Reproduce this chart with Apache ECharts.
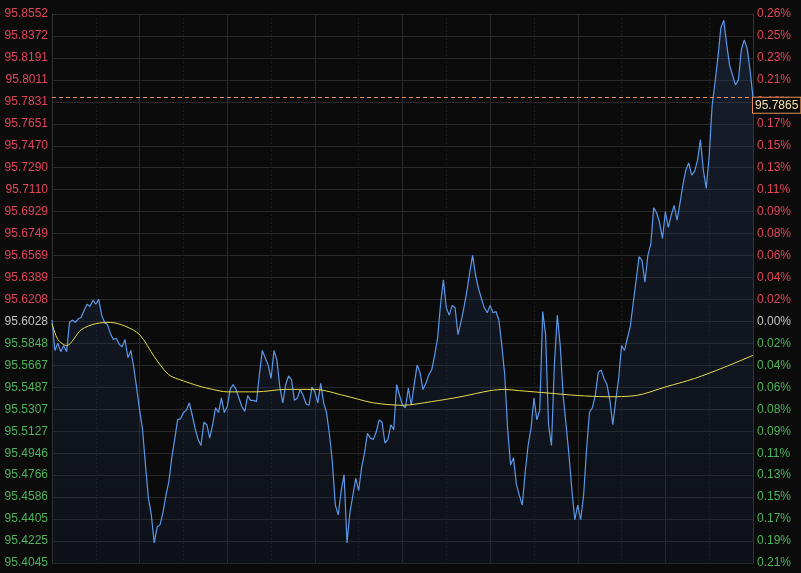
<!DOCTYPE html>
<html>
<head>
<meta charset="utf-8">
<script src="https://cdn.jsdelivr.net/npm/echarts@6/dist/echarts.min.js"></script>
<style>
html,body{margin:0;padding:0;background:#0b0b0c;}
#chart{width:801px;height:573px;}
</style>
</head>
<body>
<div id="chart"></div>
<script>
// Tick labels (left: price, right: % change from the 95.6028 base)
const leftTicks = ['95.4045','95.4225','95.4405','95.4586','95.4766','95.4946','95.5127','95.5307','95.5487','95.5667','95.5848','95.6028','95.6208','95.6389','95.6569','95.6749','95.6929','95.7110','95.7290','95.7470','95.7651','95.7831','95.8011','95.8191','95.8372','95.8552'];
const rightTicks = ['0.21%','0.19%','0.17%','0.15%','0.13%','0.11%','0.09%','0.08%','0.06%','0.04%','0.02%','0.00%','0.02%','0.04%','0.06%','0.08%','0.09%','0.11%','0.13%','0.15%','0.17%','0.19%','0.21%','0.23%','0.25%','0.26%'];
const baseIndex = 11;          // index of 95.6028 (previous close)
const tickStep = 0.018028;     // price step between ticks
const lastPrice = 95.7865;

// Intraday price, 241 samples
const priceSeries = [
95.604,95.579,95.585,95.578,95.583,95.578,95.602,95.604,95.602,95.605,
95.606,95.612,95.617,95.615,95.620,95.617,95.621,95.608,95.602,95.600,
95.593,95.588,95.589,95.584,95.582,95.588,95.573,95.579,95.565,95.548,
95.530,95.514,95.485,95.458,95.444,95.421,95.434,95.436,95.446,95.460,
95.471,95.491,95.506,95.522,95.523,95.528,95.530,95.536,95.526,95.515,
95.506,95.501,95.520,95.518,95.507,95.518,95.532,95.528,95.540,95.528,
95.533,95.547,95.551,95.547,95.540,95.533,95.529,95.542,95.538,95.538,
95.537,95.559,95.579,95.573,95.567,95.556,95.579,95.571,95.549,95.536,
95.551,95.558,95.555,95.538,95.540,95.547,95.542,95.535,95.534,95.549,
95.545,95.536,95.552,95.536,95.528,95.510,95.487,95.452,95.444,95.464,
95.477,95.421,95.446,95.460,95.474,95.464,95.483,95.495,95.511,95.507,
95.506,95.512,95.522,95.520,95.503,95.506,95.518,95.514,95.551,95.542,
95.534,95.532,95.548,95.534,95.551,95.567,95.561,95.547,95.552,95.559,
95.563,95.575,95.589,95.616,95.637,95.614,95.608,95.616,95.614,95.592,
95.602,95.614,95.627,95.643,95.657,95.641,95.630,95.622,95.614,95.610,
95.616,95.610,95.611,95.604,95.583,95.559,95.514,95.485,95.491,95.469,
95.460,95.452,95.479,95.501,95.515,95.540,95.522,95.530,95.611,95.592,
95.518,95.501,95.567,95.608,95.583,95.542,95.518,95.493,95.464,95.440,
95.452,95.440,95.460,95.497,95.528,95.532,95.542,95.561,95.563,95.556,
95.551,95.538,95.518,95.538,95.556,95.583,95.579,95.589,95.599,95.618,
95.637,95.656,95.653,95.635,95.657,95.666,95.696,95.692,95.684,95.671,
95.693,95.680,95.690,95.698,95.686,95.700,95.715,95.727,95.733,95.723,
95.726,95.735,95.752,95.727,95.712,95.739,95.780,95.799,95.820,95.844,
95.850,95.830,95.813,95.805,95.797,95.801,95.826,95.834,95.827,95.809,
95.7865
];

// Average price line (sample index, value)
const maIndex  = [0,2,5,10,15,20,25,30,35,40,45,50,55,60,70,80,90,100,110,120,130,140,150,155,160,170,180,190,200,210,220,230,240];
const maValues = [95.601,95.588,95.583,95.596,95.601,95.602,95.599,95.592,95.574,95.559,95.554,95.550,95.547,95.545,95.545,95.547,95.547,95.542,95.536,95.534,95.537,95.541,95.546,95.547,95.546,95.544,95.542,95.541,95.542,95.549,95.556,95.565,95.575];

const axisMin = parseFloat(leftTicks[0]);
const toAxis = p => (p - axisMin) / tickStep;
const nTicks = leftTicks.length - 1;

const RED = '#e0475a', GREEN = '#4fb35c', GREY = '#c4c4c4';
const tickColor = v => {
  const k = Math.round(v);
  return k > baseIndex ? RED : (k < baseIndex ? GREEN : GREY);
};

const chart = echarts.init(document.getElementById('chart'));
chart.setOption({
  backgroundColor: '#0b0b0c',
  animation: false,
  grid: {left: 52, right: 48, top: 14, bottom: 10},
  xAxis: {
    type: 'value', min: 0, max: priceSeries.length - 1, interval: 30,
    axisLine: {show: false}, axisTick: {show: false}, axisLabel: {show: false},
    splitLine: {show: true, lineStyle: {color: '#292929', width: 1}},
    minorTick: {show: false, splitNumber: 2},
    minorSplitLine: {show: true, lineStyle: {color: '#1b1b1d', type: [2, 2], width: 1}}
  },
  yAxis: [{
    type: 'value', min: 0, max: nTicks, interval: 1, position: 'left',
    axisLine: {show: true, lineStyle: {color: '#333'}}, axisTick: {show: false},
    axisLabel: {
      margin: 4, fontSize: 12, fontFamily: 'Liberation Sans, Arial, sans-serif',
      formatter: v => leftTicks[Math.round(v)], color: v => tickColor(v)
    },
    splitLine: {show: true, lineStyle: {color: '#292929', width: 1}}
  }, {
    type: 'value', min: 0, max: nTicks, interval: 1, position: 'right',
    axisLine: {show: true, lineStyle: {color: '#333'}}, axisTick: {show: false},
    axisLabel: {
      margin: 4, fontSize: 12, fontFamily: 'Liberation Sans, Arial, sans-serif',
      formatter: v => rightTicks[Math.round(v)], color: v => tickColor(v)
    },
    splitLine: {show: false}
  }],
  series: [{
    type: 'line', name: 'price', yAxisIndex: 0,
    data: priceSeries.map((p, i) => [i, toAxis(p)]),
    showSymbol: false, symbol: 'none',
    lineStyle: {color: '#5b97e8', width: 1.2},
    areaStyle: {
      origin: 'start',
      color: new echarts.graphic.LinearGradient(0, 0, 0, 1, [
        {offset: 0, color: 'rgba(45,70,115,0.45)'},
        {offset: 1, color: 'rgba(25,40,70,0.30)'}
      ])
    },
    markLine: {
      silent: true, symbol: ['none', 'none'],
      lineStyle: {color: '#e8925a', type: [4, 3], width: 1},
      label: {
        position: 'end', distance: 0, verticalAlign: 'top', align: 'left',
        formatter: () => lastPrice.toFixed(4),
        color: '#f0e0a8', fontSize: 12, fontFamily: 'Liberation Sans, Arial, sans-serif',
        backgroundColor: '#0b0b0c', borderColor: '#e8925a', borderWidth: 1,
        padding: [2, 2, 1, 2]
      },
      data: [{yAxis: toAxis(lastPrice)}]
    }
  }, {
    type: 'line', name: 'avg', yAxisIndex: 0,
    data: maIndex.map((idx, k) => [idx, toAxis(maValues[k])]),
    showSymbol: false, symbol: 'none', smooth: 0.3,
    lineStyle: {color: '#e6dc4a', width: 1}
  }]
});
</script>
</body>
</html>
